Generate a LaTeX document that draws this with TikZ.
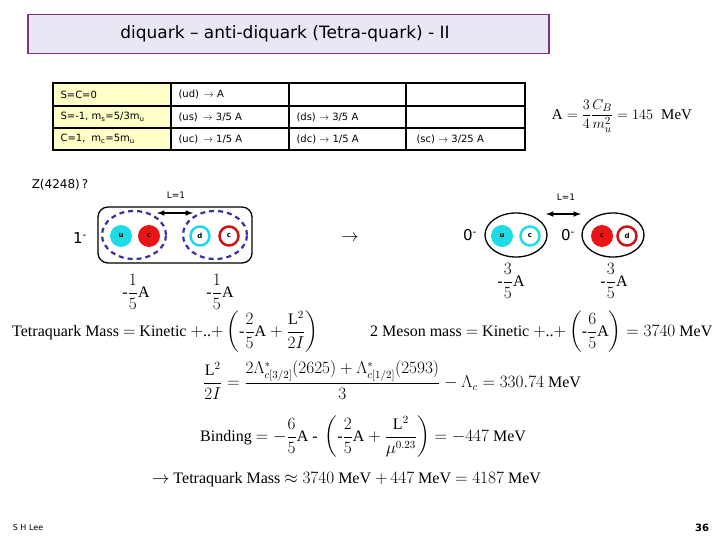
\documentclass[tikz,border=0pt]{standalone}
\usepackage{fontspec}
\setmainfont{Liberation Serif}
\newfontfamily\vf{DejaVu Sans}
\usepackage{amsmath}
\begin{document}
\begin{tikzpicture}[x=1pt,y=-1pt,
  cell/.style={font=\vf\fontsize{10}{12}\selectfont,anchor=west},
  qf/.style={circle,minimum size=22pt,inner sep=0pt,font=\vf\bfseries\fontsize{7}{8}\selectfont},
  qr/.style={circle,minimum size=19pt,inner sep=0pt,line width=2.5pt,fill=white,font=\vf\bfseries\fontsize{7}{8}\selectfont},
  eq/.style={font=\fontsize{16}{18}\selectfont},
  lbl/.style={font=\vf\fontsize{9}{10}\selectfont}]
\useasboundingbox (0,0) rectangle (720,540);
\definecolor{cy}{RGB}{30,220,230}
\definecolor{rd}{RGB}{235,20,20}
\definecolor{dr}{RGB}{200,20,20}
\definecolor{lav}{RGB}{232,232,245}
\definecolor{pur}{RGB}{128,50,128}
\definecolor{yel}{RGB}{255,255,200}
\definecolor{db}{RGB}{50,50,160}
% title
\node[draw=pur,line width=1.5pt,fill=lav,minimum width=521pt,minimum height=39pt,anchor=north west] (title) at (27,14) {};
\node[font=\vf\fontsize{17}{19}\selectfont] (tt) at (285,34) {diquark – anti-diquark (Tetra-quark) - II};
% table
\fill[yel] (53,83) rectangle (171,150);
\draw[line width=1.5pt] (53,83) rectangle (525,150);
\foreach \y in {106,128} \draw[line width=1.5pt] (53,\y) -- (525,\y);
\foreach \x in {171,289,406} \draw[line width=1.5pt] (\x,83) -- (\x,150);
\node[cell] (c11) at (57,95) {S=C=0};
\node[cell] (c12) at (175,94) {(ud) \,$\rightarrow$ A};
\node[cell] (c21) at (57,117) {S=-1, m$_\text{s}$=5/3m$_\text{u}$};
\node[cell] (c22) at (175,117) {(us) \,$\rightarrow$ 3/5 A};
\node[cell] (c23) at (293,117) {(ds) $\rightarrow$ 3/5 A};
\node[cell] (c31) at (57,139) {C=1, \;m$_\text{c}$=5m$_\text{u}$};
\node[cell] (c32) at (175,139) {(uc) \,$\rightarrow$ 1/5 A};
\node[cell] (c33) at (293,139) {(dc) $\rightarrow$ 1/5 A};
\node[cell] (c34) at (413,139) {(sc) $\rightarrow$ 3/25 A};
\node[font=\fontsize{15}{17}\selectfont] (Aeq) at (622,116) {$\mathrm{A}=\dfrac{3}{4}\dfrac{C_B}{m_u^2}=145\;\;\mathrm{MeV}$};
% left
\node[font=\vf\fontsize{12}{14}\selectfont] (z) at (60,185) {Z(4248)\,?};
\node[lbl] (L1) at (176,195) {L=1};
\draw[line width=1.3pt,rounded corners=10pt] (98,207) rectangle (252,263);
\node[font=\vf\fontsize{15}{17}\selectfont] (one) at (80,238) {1$^{\text{-}}$};
\draw[db,line width=2.2pt,dash pattern=on 5pt off 4pt] (134,235) ellipse (32pt and 24pt);
\draw[db,line width=2.2pt,dash pattern=on 5pt off 4pt] (215,235) ellipse (32pt and 24pt);
\coordinate (la) at (157,213); \coordinate (lb) at (193,213);
\draw[<->,>=latex,line width=1.5pt] (la) -- (lb);
\node[qf,fill=cy] (u1) at (121,236) {u};
\node[qf,fill=rd] (c1) at (149,236) {c};
\node[qr,draw=cy] (d1) at (200,236) {d};
\node[qr,draw=dr] (c2) at (229,236) {c};
\node[eq] (f1) at (136,292) {$\text{-}\dfrac{1}{5}\mathrm{A}$};
\node[eq] (f2) at (220,292) {$\text{-}\dfrac{1}{5}\mathrm{A}$};
\node[font=\fontsize{16}{18}\selectfont] (ar) at (350,238) {$\rightarrow$};
% right
\node[lbl] (L2) at (566,197) {L=1};
\coordinate (ra) at (546,214); \coordinate (rb) at (581,214);
\draw[<->,>=latex,line width=1.5pt] (ra) -- (rb);
\draw[line width=1.3pt] (516,235) ellipse (31pt and 22pt);
\draw[line width=1.3pt] (613,235) ellipse (31pt and 22pt);
\node[font=\vf\fontsize{15}{17}\selectfont] (z1) at (470,235) {0$^{\text{-}}$};
\node[font=\vf\fontsize{15}{17}\selectfont] (z2) at (568,235) {0$^{\text{-}}$};
\node[qf,fill=cy] (u2) at (502,236) {u};
\node[qr,draw=cy] (c3) at (530,236) {c};
\node[qf,fill=rd] (c4) at (602,236) {c};
\node[qr,draw=dr] (d2) at (627,236) {d};
\node[eq] (f3) at (511,281) {$\text{-}\dfrac{3}{5}\mathrm{A}$};
\node[eq] (f4) at (614,281) {$\text{-}\dfrac{3}{5}\mathrm{A}$};
% equations
\node[eq,anchor=west,inner sep=0] (tm) at (12,332) {Tetraquark Mass $=$ Kinetic $+$..$+\left(\text{-}\dfrac{2}{5}\mathrm{A}+\dfrac{\mathrm{L}^2}{2I}\right)$};
\node[eq,anchor=west,inner sep=0] (mm) at (370,332) {2 Meson mass $=$ Kinetic $+$..$+\left(\text{-}\dfrac{6}{5}\mathrm{A}\right)=3740$ MeV};
\node[eq,anchor=west,inner sep=0] (le) at (203,380) {$\dfrac{\mathrm{L}^2}{2I}=\dfrac{2\Lambda^*_{c[3/2]}(2625)+\Lambda^*_{c[1/2]}(2593)}{3}-\Lambda_c=330.74$ MeV};
\node[eq,anchor=west,inner sep=0] (bd) at (200,437) {Binding $=-\dfrac{6}{5}\mathrm{A}\text{ - }\left(\text{-}\dfrac{2}{5}\mathrm{A}+\dfrac{\mathrm{L}^2}{\mu^{0.23}}\right)=-447$ MeV};
\node[eq,anchor=west,inner sep=0] (res) at (152,480) {$\rightarrow$ Tetraquark Mass $\approx3740$ MeV $+\,447$ MeV $=4187$ MeV};
\node[font=\vf\fontsize{8}{9}\selectfont] (sh) at (28,528) {S H Lee};
\node[font=\vf\bfseries\fontsize{10}{11}\selectfont] (pg) at (702,528) {36};
\end{tikzpicture}
\end{document}
